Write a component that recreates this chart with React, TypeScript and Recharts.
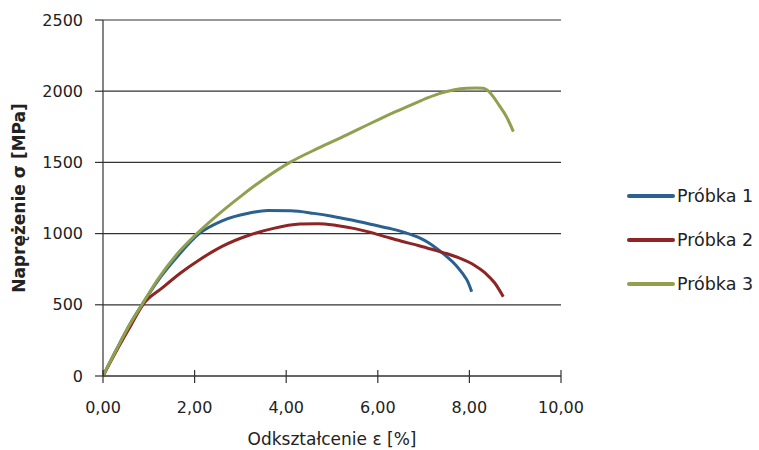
import React from 'react'
import { LineChart, Line, XAxis, YAxis, CartesianGrid, Legend } from 'recharts'

// Próbka 1
const eps1 = [0, 0.3, 0.6, 0.85, 1.2, 1.6, 2.1, 2.6, 3.2, 3.6, 4.1, 4.6, 5.0, 5.4, 5.9, 6.3, 6.6, 6.9, 7.1, 7.3, 7.5, 7.7, 7.85, 7.97, 8.05]
const sig1 = [0, 190, 370, 500, 670, 830, 1000, 1090, 1145, 1162, 1160, 1142, 1122, 1097, 1062, 1033, 1006, 971, 937, 892, 840, 780, 720, 660, 592]

// Próbka 2
const eps2 = [0, 0.3, 0.6, 0.87, 1.3, 1.7, 2.1, 2.6, 3.2, 3.7, 4.3, 4.7, 5.1, 5.5, 5.8, 6.2, 6.5, 6.9, 7.2, 7.5, 7.8, 8.1, 8.35, 8.55, 8.74]
const sig2 = [0, 180, 350, 500, 620, 725, 815, 910, 990, 1035, 1067, 1070, 1057, 1035, 1012, 975, 948, 915, 888, 860, 826, 780, 722, 655, 557]

// Próbka 3
const eps3 = [0, 0.3, 0.6, 0.85, 1.2, 1.6, 2.05, 2.5, 3.0, 3.5, 4.08, 4.7, 5.3, 5.7, 6.05, 6.4, 6.77, 7.1, 7.36, 7.65, 7.94, 8.15, 8.3, 8.4, 8.52, 8.65, 8.81, 8.96]
const sig3 = [0, 190, 370, 500, 680, 850, 1000, 1130, 1260, 1380, 1500, 1600, 1690, 1752, 1806, 1858, 1910, 1955, 1985, 2008, 2020, 2022, 2020, 2005, 1962, 1900, 1821, 1716]

const xTicks = [0, 2, 4, 6, 8, 10]
const yTicks = [0, 500, 1000, 1500, 2000, 2500]

const series = [
  { name: 'Próbka 1', eps: eps1, sig: sig1, color: '#2a6190' },
  { name: 'Próbka 2', eps: eps2, sig: sig2, color: '#8e2424' },
  { name: 'Próbka 3', eps: eps3, sig: sig3, color: '#8fa04e' },
]

const fmtX = (v: number) => v.toFixed(2).replace('.', ',')

// tick na osi X przecina oś (w górę i w dół)
const XTick = (props: any) => {
  const { x, y, payload } = props
  return (
    <g>
      <line x1={x} x2={x} y1={y - 6} y2={y + 7} stroke="#333" strokeWidth={1.2} />
      <text x={x} y={y + 37} textAnchor="middle" fill="#222" fontSize={16}>
        {fmtX(payload.value)}
      </text>
    </g>
  )
}

const LegendBox = (props: any) => {
  const items = props.payload || []
  return (
    <div>
      {items.map((it: any) => (
        <div key={it.value} style={{ display: 'flex', alignItems: 'center', height: 44 }}>
          <div style={{ width: 48, height: 4, background: it.color, borderRadius: 2 }} />
          <span style={{ fontSize: 17.5, color: '#222', marginLeft: 2 }}>{it.value}</span>
        </div>
      ))}
    </div>
  )
}

export default function App() {
  return (
    <div style={{ position: 'absolute', left: 0, top: 0, width: 759, height: 450, background: '#fff', fontFamily: 'DejaVu Sans' }}>
      <LineChart width={759} height={450} margin={{ top: 20, right: 198, left: 0, bottom: 2 }}>
        <CartesianGrid vertical={false} stroke="#333" strokeWidth={1.2} />
        <XAxis
          type="number"
          dataKey="x"
          domain={[0, 10]}
          ticks={xTicks}
          tickFormatter={fmtX}
          height={72}
          tickLine={false}
          tickSize={0}
          tickMargin={0}
          tick={<XTick />}
          axisLine={{ stroke: '#333', strokeWidth: 1.2 }}
          allowDataOverflow
          label={{ value: 'Odkształcenie ε [%]', position: 'insideBottom', offset: 3, fill: '#222', fontSize: 17 }}
        />
        <YAxis
          type="number"
          dataKey="y"
          domain={[0, 2500]}
          ticks={yTicks}
          width={103}
          tickSize={8}
          tickMargin={12}
          tick={{ fill: '#222', fontSize: 16 }}
          tickLine={{ stroke: '#333', strokeWidth: 1.2 }}
          axisLine={{ stroke: '#333', strokeWidth: 1.2 }}
          label={{ value: 'Naprężenie σ [MPa]', angle: -90, position: 'insideLeft', offset: 19, fill: '#222', fontSize: 17, fontWeight: 'bold', style: { textAnchor: 'middle' } }}
        />
        <Legend
          layout="vertical"
          align="center"
          verticalAlign="middle"
          wrapperStyle={{ left: 627, top: 174 }}
          content={<LegendBox />}
        />
        {series.map((s) => (
          <Line
            key={s.name}
            name={s.name}
            data={s.eps.map((e, i) => ({ x: e, y: s.sig[i] }))}
            dataKey="y"
            type="monotone"
            stroke={s.color}
            strokeWidth={3}
            dot={false}
            isAnimationActive={false}
          />
        ))}
      </LineChart>
    </div>
  )
}
